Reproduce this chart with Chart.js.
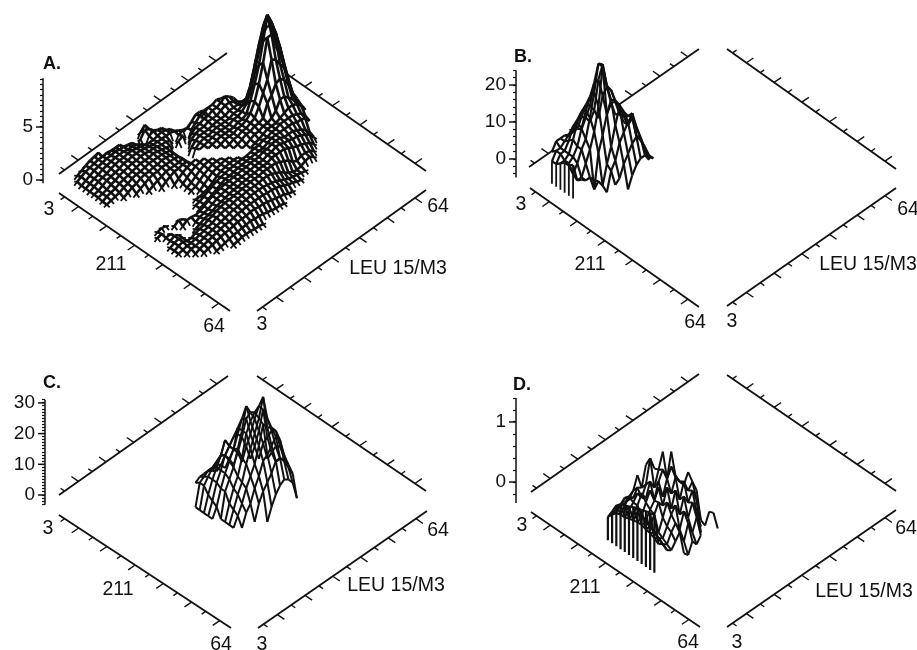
<!DOCTYPE html>
<html><head><meta charset="utf-8">
<style>html,body{margin:0;padding:0;background:#fff;width:917px;height:650px;overflow:hidden}
.p{position:absolute}</style>
<script src="https://cdn.jsdelivr.net/npm/chart.js@4"></script></head><body>
<div class="p" style="left:0;top:0;width:458px;height:345px"><canvas id="A"></canvas></div>
<div class="p" style="left:458px;top:0;width:459px;height:345px"><canvas id="B"></canvas></div>
<div class="p" style="left:0;top:345px;width:458px;height:305px"><canvas id="C"></canvas></div>
<div class="p" style="left:458px;top:345px;width:459px;height:305px"><canvas id="D"></canvas></div>
<script>
// Channel ticks along both floor axes
const tickChannels = [5,10,15,20,25,30,35,40,45,50,55,60];
// Surface heights: [row i (211 axis), first column j (LEU 15/M3 axis), heights]
// Panel A in tenths of a z unit
const surfaceA = [
[0,1,[3,5,7,9,10,11]],
[1,0,[3,5,7,8,9,10,10,11,10,10,10]],[1,15,[8,12]],
[2,0,[2,4,6,8,9,10,11,11,12,11,11,10,9]],[2,14,[7,13,11,7]],
[3,0,[2,4,6,7,9,10,11,12,12,12,11,11,10,8]],[3,15,[10,12,10,9]],
[4,0,[2,4,6,7,8,10,11,12,12,13,13,12,11,10,9,9,10,11,10,8]],
[5,0,[2,3,5,7,8,9,10,12,12,13,13,13,12,11,10,10,10,10,10,9,7]],
[6,0,[2,3,4,6,7,9,10,11,12,12,13,13,12,12,11,10,10,8]],[6,19,[8,10,9]],[6,22,[12,16,16,12]],
[7,0,[1,3,4,5,7,8,9,10,11,12,12,12,13,12,11,10,9]],[7,18,[8,10]],[7,21,[10,14,18,20,20,20,22,20]],
[8,0,[1,2,3,4,6,7,9,10,10,11,12,12,12,12,11,10]],[8,20,[12,15,16,18,18,20,20,22,25,22,18]],
[9,3,[2,4,6,7,9,10,10,11,11,12,12,11,10]],[9,19,[12,15,16,16,18,18,18,20,22,22,20,17,14]],
[10,5,[3,5,7,9,10,10,11,11,11,11,10]],[10,18,[10,14,16,16,16,17,18,18,18,20,20,20,20,20,30,46,58,70,75]],
[11,7,[3,5,7,8,10,10,10,10,11]],[11,18,[12,15,16,16,17,18,18,18,18,20,20,22,24,34,50,68,80,88,76,55]],
[12,9,[3,6,8,10,10,11,11]],[12,18,[14,15,16,17,18,18,18,18,20,20,22,26,34,50,68,88,96,86,74,50]],
[13,11,[3,6,9,11,12,13]],[13,19,[15,16,17,18,18,18,18,20,20,22,32,45,60,80,102,92,78,63,42]],
[14,12,[4,7,10,12,13,14]],[14,20,[15,16,18,18,18,20,20,22,26,34,48,65,86,86,80,68,50,32]],
[15,12,[3,5,8,11,13,14,14]],[15,21,[15,16,18,18,20,20,22,24,32,42,52,68,65,58,52,38,22]],
[16,12,[3,4,7,10,12,14,14,14]],[16,22,[15,16,18,20,20,22,22,24,35,40,48,50,46,39,28,20]],
[17,13,[3,6,9,12,13,14,15,15]],[17,23,[15,16,18,20,20,22,22,24,28,36,36,32,28,22,17]],
[18,11,[3,3,4,5,8,11,13,14,15,15,15]],[18,24,[15,17,18,20,22,22,22,24,26,28,28,26,22,15]],
[19,1,[3,4,3]],[19,10,[3,4,6,8,10,12,13,14,15,15,16,16,16,17,18,18,20,20,22,22,24,24,24,24,22,20,15]],
[20,0,[3,4]],[20,4,[3,6,4]],[20,10,[3,4,6,8,10,12,14,14,15,16,16,17,17,18,18,18,20,22,22,22,22,22,22,20,20,18,13]],
[21,1,[3,4]],[21,5,[3,6,6,5,6,8,10,12,13,14,15,15,16,16,17,17,18,18,18,20,20,22,22,22,20,20,20,18,16,13,8]],
[22,1,[3,5,3]],[22,7,[4,6,7,8,10,12,13,14,15,15,16,16,17,17,18,18,18,20,20,22,22,20,20,18,18,16,14,11,6]],
[23,0,[2,4,5,3]],[23,6,[3,5,7,8,9,11,12,13,14,15,15,16,16,17,17,18,18,18,20,20,20,20,18,16,14,13,11,9,5]],
[24,0,[2,4,5,3,3,5,6,7,9,10,12,13,14,14,15,15,16,16,17,17,17,18,18,18,18,16,14,12,8,6,8,8,7,4]],
[25,0,[2,3,4,4,5,6,7,8,9,11,12,13,13,14,15,15,16,16,16,16,17,17,16,14,12,9,6,4,3,4,6,7,4]],
[26,1,[2,4,4,5,6,7,8,9,10,11,12,13,13,14,14,15,15,15,15,14,13,12,10,8,6,5,4,3,2]],
[27,2,[2,4,5,6,7,8,9,10,10,11,12,12,13,13,13,13,13,12,12,11,10,8,6,5,3,2]],
[28,3,[3,4,5,6,7,8,8,9,10,10,10,11,11,10,10,9,8,7,6,5,3,2]],
[29,5,[2,3,4,5,6,6,7,7,8,7,7,6,5,4,3,3,2]],
[30,8,[2,3,4,4,4,3,3,2]]
];
// Panel B in z units
const surfaceB = [
[1,1,[2,4,4,4,3]],
[2,0,[1,3,3,4,5,5,5,4]],
[3,0,[1,3,3,5,8,9,9,8,6]],
[4,0,[2,2,3,6,10,12,13,12,10,7]],
[5,0,[3,2,3,5,9,13,16,19,19,14,8]],
[6,0,[3,0,2,5,7,12,18,25,24,17,12,8]],
[7,0,[4,-1,-1,2,5,9,15,25,19,17,13,9,6]],
[8,1,[0,-1,-1,-5,4,8,13,16,15,13,9,6,7]],
[9,3,[-1,-2,-4,1,5,10,14,12,10,10,3,1]],
[10,5,[-5,0,2,6,8,10,11,7,3,0,-3]],
[11,6,[-3,-2,1,3,5,6,5,1,-2,-3]],
[12,8,[-5,-2,0,1,1,-1]]
];
const curtainB = [[2,0],[3,0],[4,0],[5,0],[6,0],[7,0]];
// Panel C in z units
const surfaceC = [
[14,15,[3,4,4,4,3,2]],
[15,14,[-3,4,5,6,6,6,5,3]],
[16,14,[-3,4,6,8,9,10,9,7,4]],
[17,14,[-3,2,6,9,12,16,13,11,9,5]],
[18,14,[-3,1,6,9,13,15,17,17,15,11,6]],
[19,14,[-3,0,5,9,12,15,21,23,22,16,11,6]],
[20,15,[-3,5,8,11,16,21,28,25,22,17,12,6]],
[21,15,[-3,2,6,9,14,21,24,26,27,25,15,9,5]],
[22,15,[-3,1,5,8,13,17,21,25,31,23,18,12,7]],
[23,15,[-3,0,3,7,10,13,18,24,22,21,19,13,8]],
[24,16,[-3,1,3,7,10,14,15,17,19,17,11,7]],
[25,18,[-2,3,6,8,10,13,13,11,8,5]],
[26,20,[-3,1,4,6,7,6,4,-2]]
];
// Panel D in hundredths of a z unit
const surfaceD = [
[14,1,[6,5,10,8,10,15]],
[15,1,[20,12,22,28,20,30,51]],
[16,1,[35,15,25,35,28,40,35,68]],
[17,1,[42,15,22,30,40,28,45,84,62]],
[18,1,[45,18,20,30,45,32,55,40,65,90]],
[19,1,[48,20,28,18,35,50,30,55,70,50,90]],
[20,1,[52,22,25,15,28,38,55,35,60,75,55,40]],
[21,1,[55,22,22,10,25,40,30,55,40,62,50,40,56]],
[22,1,[57,20,20,5,0,20,40,25,50,30,55,35,45,26]],
[23,1,[60,18,15,0,-5,10,25,35,15,40,25,40,20,-19]],[23,15,[-33]],
[24,1,[62,15,10,-5,-10,5,15,0,25,10,30,10,-30]],[24,15,[-5,-12]],
[25,1,[63,10,5,-10,-15,-5,5,-15,10,-10,10,-10]],[25,16,[-33]],
[26,7,[-25,-33,-15,-25,-15]]
];
const curtainD = [[14,1],[15,1],[16,1],[17,1],[18,1],[19,1],[20,1],[21,1],[22,1],[23,1],[24,1],[25,1]];
// Vertical axis tick values
const zMajorA = [0,5], zMajorB = [0,10,20], zMajorC = [0,10,20,30], zMajorD = [0,1];

const panels = [
 {id:'A',left:0,top:0,w:458,h:345,axisX:43,z0:180,k:10.6,lo:-0.3,hi:9.6,step:0.5,major:zMajorA,unit:0.1,
  baseX:73,baseY:182,data:surfaceA,curtain:[],ground:-0.2,lw:2.6,fringe:0.4,fringeBelow:1.25,curtainW:2,
  edges:[[59,174,227,53,-1,-1],[258,54,426,171,1,-1],[59,193,230,311,-1,1],[257,311,426,190,1,1]],
  text:[['A.',52,64,1],['3',49,210],['211',111,265],['64',214,327],['3',262,325],['64',438,207],['LEU 15/M3',398,269]]},
 {id:'B',left:458,top:0,w:459,h:345,axisX:58,z0:159,k:3.7,lo:-5,hi:24,step:2,major:zMajorB,unit:1,
  baseX:543.5,baseY:159,data:surfaceB,curtain:curtainB,ground:-5.1,lw:2.2,curtainW:1.8,
  edges:[[529,167,699,49,-1,-1],[727,49,896,169,1,-1],[530,188,699,307,-1,1],[727,306,896,188,1,1]],
  text:[['B.',523,57,1],['3',521,205],['211',590,265],['64',695,323],['3',732,322],['64',908,210],['LEU 15/M3',868,265]]},
 {id:'C',left:0,top:345,w:458,h:305,axisX:45,z0:495,k:3.07,lo:-3.2,hi:31,step:1,major:zMajorC,unit:1,
  baseX:73,baseY:495,data:surfaceC,curtain:[],ground:-3.3,lw:2,curtainW:2,
  edges:[[59,495,228,376,-1,-1],[257,376,426,491,1,-1],[59,515,231,628,-1,1],[258,628,427,511,1,1]],
  text:[['C.',52,383,1],['3',48,529],['211',118,590],['64',221,645],['3',262,645],['64',438,531],['LEU 15/M3',396,586]]},
 {id:'D',left:458,top:345,w:459,h:305,axisX:58,z0:482,k:60,lo:-0.35,hi:1.4,step:0.2,major:zMajorD,unit:0.01,
  baseX:544.5,baseY:482,data:surfaceD,curtain:curtainD,ground:-0.33,lw:2,curtainW:2.2,
  edges:[[531,492,699,374,-1,-1],[727,375,896,491,1,-1],[531,512,700,627,-1,1],[727,627,896,510,1,1]],
  text:[['D.',522,385,1],['3',522,526],['211',585,588],['64',688,643],['3',737,643],['64',906,529],['LEU 15/M3',864,592]]}
];
const STEP_X = 4.225, STEP_Y = 2.96, INK = '#111';

function line(points, width){
 return {data:points, showLine:true, pointRadius:0, borderColor:INK, borderWidth:width, clip:false,
  fill:false, tension:0, spanGaps:true};
}
function patch(points){
 return {data:points, showLine:true, pointRadius:0, borderWidth:0, borderColor:'#fff', clip:false,
  fill:'shape', backgroundColor:'#fff', tension:0, spanGaps:true};
}
function build(p){
 const toY = py => (p.z0 - py) / p.k;
 const pt = (i,j,z) => ({x:p.baseX + STEP_X*(i+j), y:toY(p.baseY + STEP_Y*(i-j) - p.k*z)});
 const nodes = new Map();
 p.data.forEach(([i,j0,hs]) => hs.forEach((h,n) => nodes.set(i+','+(j0+n), h*p.unit)));
 const has = (i,j) => nodes.has(i+','+j);
 const Z = (i,j) => nodes.get(i+','+j);
 const P = (i,j) => pt(i,j,Z(i,j));
 const quad = (i,j) => has(i,j)&&has(i+1,j)&&has(i,j+1)&&has(i+1,j+1);
 const wires = [], patches = [];
 nodes.forEach((_,key) => {
  const [i,j] = key.split(',').map(Number);
  if (quad(i,j)) patches.push(patch([P(i,j),P(i+1,j),P(i+1,j+1),P(i,j+1),P(i,j)]));
  if (has(i+1,j)) wires.push(line([P(i,j),P(i+1,j)],p.lw));
  if (has(i,j+1)) wires.push(line([P(i,j),P(i,j+1)],p.lw));
  // low surface edges drop towards an unpopulated neighbouring bin
  if (p.fringe && Z(i,j) < p.fringeBelow) [[1,0],[-1,0],[0,1],[0,-1]].forEach(([a,b]) => {
   if (!has(i+a,j+b)) wires.push(line([P(i,j),pt(i+a*0.7,j+b*0.7,Z(i,j)*p.fringe)],1.8));
  });
 });
 p.curtain.forEach(([i,j]) => wires.push(line([P(i,j),pt(i,j,p.ground)],p.curtainW)));
 // dataset 0 is painted last: mesh on top, white underlay, then axes beneath
 const ds = wires.concat(patches);
 p.edges.forEach(([x0,y0,x1,y1,sx,sy]) => {
  ds.push(line([{x:x0,y:toY(y0)},{x:x1,y:toY(y1)}],1.8));
  tickChannels.forEach((c,n) => {
   const f=(c-3)/61, x=x0+(x1-x0)*f, y=y0+(y1-y0)*f, big=n%2===1;
   ds.push(line([{x,y:toY(y)},{x:x+sx*(big?7:4),y:toY(y+sy*(big?4.8:2.8))}],1.4));
  });
 });
 const ax = p.left + p.axisX;
 ds.push(line([{x:ax,y:p.lo},{x:ax,y:p.hi}],1.5));
 p.major.forEach(v => ds.push(line([{x:ax-7,y:v},{x:ax,y:v}],1.5)));
 const labels = {id:'labels',afterDraw(c){
  const g=c.ctx; g.save(); g.fillStyle=INK; g.textAlign='center'; g.textBaseline='middle';
  p.text.forEach(([s,x,y,b]) => { g.font=(b?'bold 18px':'19.5px')+' "Liberation Sans",Arial,sans-serif';
   g.fillText(s,x-p.left,y-p.top); });
  g.restore();
 }};
 new Chart(document.getElementById(p.id),{
  type:'scatter',
  data:{datasets:ds},
  plugins:[labels],
  options:{responsive:false,animation:false,events:[],
   layout:{padding:0},
   plugins:{legend:{display:false},title:{display:false},tooltip:{enabled:false}},
   scales:{
    x:{type:'linear',display:false,min:p.left+p.axisX,max:p.left+p.w},
    y:{type:'linear',position:'left',min:(p.z0-(p.top+p.h))/p.k,max:(p.z0-p.top)/p.k,
     border:{display:false},
     grid:{drawOnChartArea:false,drawTicks:true,tickLength:3,tickColor:INK,tickWidth:1.2},
     ticks:{stepSize:p.step,autoSkip:false,includeBounds:false,padding:7,color:INK,maxRotation:0,
      font:{family:'"Liberation Sans",Arial,sans-serif',size:19},
      callback:v=>p.major.some(m=>Math.abs(m-v)<1e-6)?String(Math.round(v)):''},
     afterBuildTicks(s){s.ticks=s.ticks.filter(t=>t.value>=p.lo-1e-6&&t.value<=p.hi+1e-6);},
     afterFit(s){s.width=p.axisX;s.paddingTop=0;s.paddingBottom=0;}
    }
   }
  }
 });
}
panels.forEach(p=>{const c=document.getElementById(p.id);c.width=p.w;c.height=p.h;c.style.width=p.w+'px';c.style.height=p.h+'px';build(p);});
</script></body></html>
